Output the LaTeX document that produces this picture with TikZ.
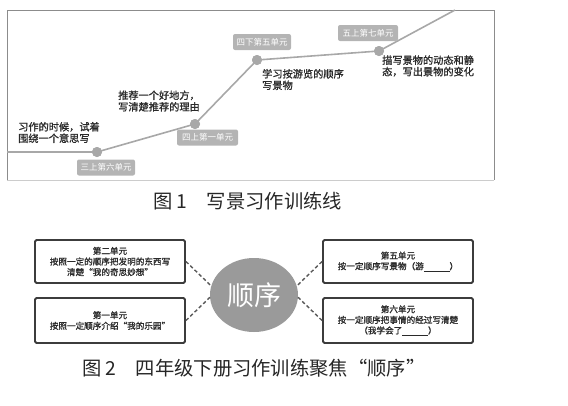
\documentclass[tikz,border=0pt]{standalone}
\usepackage{fontspec}
\setmainfont{Noto Sans CJK SC}
\newfontfamily\notefont[FakeBold=1.2]{Noto Sans CJK SC}
\usetikzlibrary{shapes.geometric}
\definecolor{framegray}{HTML}{8C8C8C}
\definecolor{linegray}{HTML}{A8A8A8}
\definecolor{labgray}{HTML}{B4B4B4}
\definecolor{notetext}{HTML}{2A2A2A}
\definecolor{boxline}{HTML}{3C3C3C}
\definecolor{circgray}{HTML}{9A9A9A}
\tikzset{
  pt/.style={circle,fill=linegray,minimum size=10pt,inner sep=0pt},
  lab/.style={rounded corners=2pt,fill=labgray,text=white,inner sep=0pt,minimum height=16pt,font=\fontsize{8.5}{10}\selectfont},
  note/.style={anchor=west,align=left,inner sep=0pt,text=notetext,font=\notefont\fontsize{10.2}{11.5}\selectfont},
  unitbox/.style={draw=boxline,line width=1.9pt,rounded corners=1.5pt,fill=white,minimum width=150pt,align=center,inner sep=0pt,text=notetext,font=\notefont\fontsize{8.6}{10.6}\selectfont},
  conn/.style={draw=boxline!85,line width=1.4pt,dash pattern=on 3.5pt off 2.5pt},
  figcaption/.style={anchor=west,inner sep=0pt,text=black!85,font=\fontsize{19.3}{21}\selectfont},
}
\begin{document}
\begin{tikzpicture}[x=1pt,y=-1pt]
\useasboundingbox (0,0) rectangle (568,405);
% ---------- Figure 1 ----------
\draw[black!20,line width=0.8pt] (7,180) -- (494,180);
\draw[framegray,line width=1pt] (7,180) -- (7,10) -- (494,10) -- (494,180);
\coordinate (p0) at (7,152);
\node[pt] (p1) at (97,152) {};
\node[pt] (p2) at (195,124) {};
\node[pt] (p3) at (257,60) {};
\node[pt] (p4) at (379,51) {};
\coordinate (p5) at (455,10);
\draw[linegray,line width=1.6pt] (p0) -- (p1.center) -- (p2.center) -- (p3.center) -- (p4.center) -- (p5);
\node[pt] at (p1) {};
\node[pt] at (p2) {};
\node[pt] at (p3) {};
\node[pt] at (p4) {};
\node[lab,minimum width=58pt] (l1) at (106,167.5) {三上第六单元};
\node[lab,minimum width=61pt] (l2) at (207.5,137.5) {四上第一单元};
\node[lab,minimum width=58pt] (l3) at (262,42) {四下第五单元};
\node[lab,minimum width=60pt] (l4) at (368,33) {五上第七单元};
\node[note] (n1) at (18,132.5) {习作的时候，试着\\围绕一个意思写};
\node[note] (n2) at (118,101) {推荐一个好地方，\\写清楚推荐的理由};
\node[note] (n3) at (262,79.5) {学习按游览的顺序\\写景物};
\node[note] (n4) at (382,66) {描写景物的动态和静\\态，写出景物的变化};
\node[figcaption] (cap1) at (153,201) {图 1\hspace{1em}写景习作训练线};
% ---------- Figure 2 ----------
\node[ellipse,fill=circgray,minimum width=88pt,minimum height=74pt,inner sep=0pt,text=white,font=\fontsize{27}{30}\selectfont] (c) at (254,295) {顺序};
\node[unitbox,minimum height=43pt] (b1) at (110,261.5) {第二单元\\按照一定的顺序把发明的东西写\\清楚“我的奇思妙想”};
\node[unitbox,minimum height=45pt] (b2) at (110,320.5) {第一单元\\按照一定顺序介绍“我的乐园”};
\node[unitbox,minimum height=43pt] (b3) at (398,261.5) {第五单元\\按一定顺序写景物（游\underline{\hspace{3em}}）};
\node[unitbox,minimum height=45pt] (b4) at (398,320.5) {第六单元\\按一定顺序把事情的经过写清楚\\（我学会了\underline{\hspace{3em}}）};
\draw[conn] (b1.east) -- (c.168);
\draw[conn] (b2.east) -- (c.183);
\draw[conn] (b3.west) -- (c.12);
\draw[conn] (b4.west) -- (c.-3);
\node[figcaption] (cap2) at (82,368) {图 2\hspace{1em}四年级下册习作训练聚焦“顺序”};
\end{tikzpicture}
\end{document}
